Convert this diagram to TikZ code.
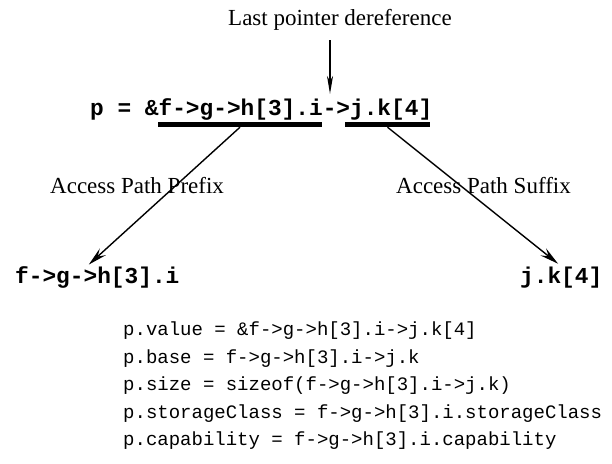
\documentclass[tikz,border=0pt]{standalone}
\usepackage{fontspec}
\setmainfont{Liberation Serif}
\setmonofont{Liberation Mono}
\usetikzlibrary{arrows.meta}
\begin{document}
\begin{tikzpicture}[x=1pt,y=-1pt,
  lbl/.style={font=\fontsize{23}{27}\selectfont, inner sep=0pt, anchor=base west},
  bigcode/.style={font=\fontsize{22.8}{27}\selectfont\ttfamily\bfseries, inner sep=0pt, anchor=base west},
  smallcode/.style={font=\fontsize{19}{23}\selectfont\ttfamily, inner sep=0pt, anchor=base west},
  bar/.style={fill=black, inner sep=0pt, minimum height=5pt},
  conn/.style={line width=1.4pt, -{Stealth[length=19pt,width=9pt,inset=7pt]}},
  vconn/.style={line width=1.4pt, -{Stealth[length=18pt,width=6pt,inset=5pt]}}]
\useasboundingbox (0,0) rectangle (612,463);
\node[lbl] (title) at (228,25) {Last pointer dereference};
\node[bigcode] (expr) at (90,115) {p = \&f->g->h[3].i->j.k[4]};
\node[bar, minimum width=164pt] (barL) at (240,124.5) {};
\node[bar, minimum width=85pt] (barR) at (387.5,124.5) {};
\node[lbl] (pre) at (50,193) {Access Path Prefix};
\node[lbl] (suf) at (396,193) {Access Path Suffix};
\node[bigcode] (prefix) at (15,283) {f->g->h[3].i};
\node[bigcode] (suffix) at (520,283) {j.k[4]};
\node[smallcode] (l1) at (123,335) {p.value = \&f->g->h[3].i->j.k[4]};
\node[smallcode] (l2) at (123,363) {p.base = f->g->h[3].i->j.k};
\node[smallcode] (l3) at (123,390) {p.size = sizeof(f->g->h[3].i->j.k)};
\node[smallcode] (l4) at (123,418) {p.storageClass = f->g->h[3].i.storageClass};
\node[smallcode] (l5) at (123,445) {p.capability = f->g->h[3].i.capability};
\coordinate (deref) at (330,40);
\draw[vconn, shorten >=4pt] (deref) -- (deref |- expr.north);
\draw[conn, shorten >=2pt] (barL.south) -- ([xshift=-10pt]prefix.north);
\draw[conn, shorten >=4pt] (barR.south) -- (suffix.north);
\end{tikzpicture}
\end{document}
